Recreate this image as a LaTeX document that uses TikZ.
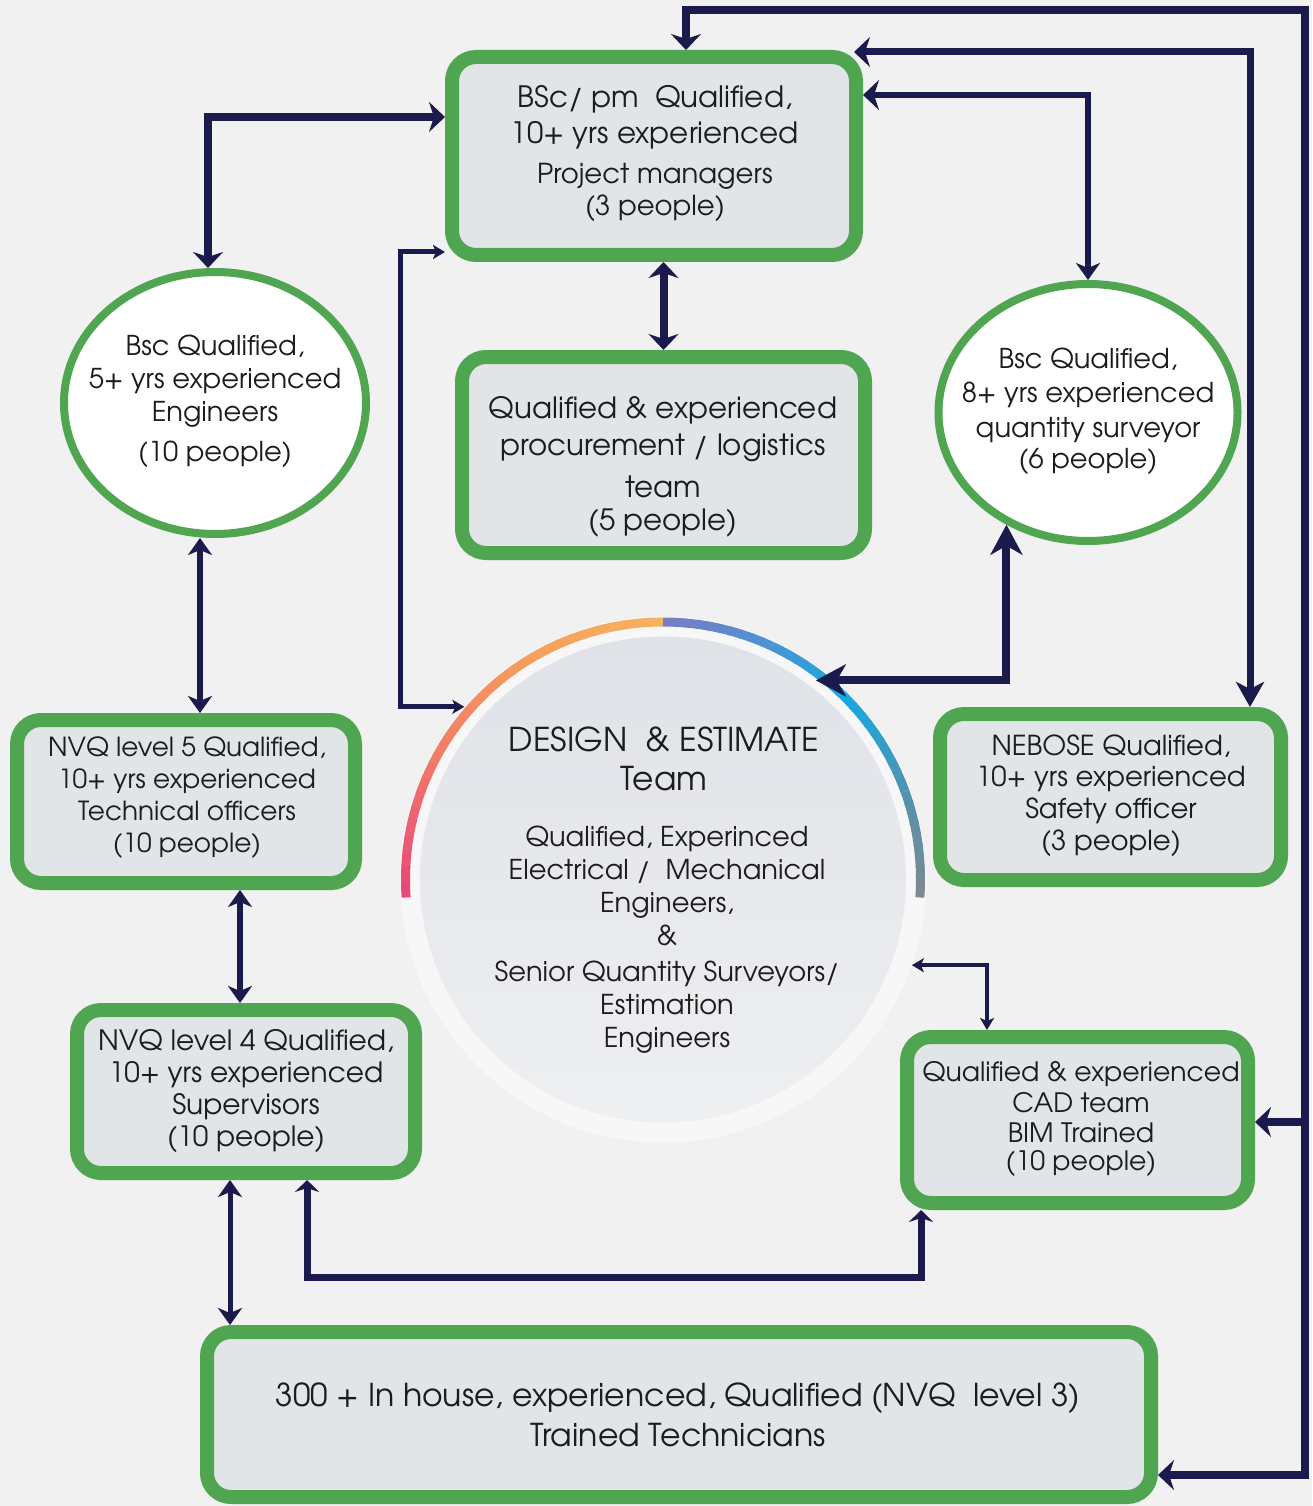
\documentclass[tikz,border=0pt]{standalone}
\usepackage{fontspec}
\setmainfont{TeX Gyre Adventor}
\usetikzlibrary{arrows.meta,shapes.geometric,calc}
\definecolor{bg}{RGB}{241,241,241}
\definecolor{gr}{RGB}{80,166,80}
\definecolor{boxfill}{RGB}{226,229,232}
\definecolor{navy}{RGB}{26,26,76}
\definecolor{ringfill}{RGB}{247,247,248}
\definecolor{discA}{RGB}{223,226,231}
\definecolor{discB}{RGB}{238,239,241}
\definecolor{txtc}{RGB}{28,28,28}
\definecolor{pinkc}{RGB}{233,70,122}
\definecolor{coralc}{RGB}{241,125,104}
\definecolor{orangec}{RGB}{246,160,92}
\definecolor{orangetop}{RGB}{247,178,96}
\definecolor{lavc}{RGB}{124,124,194}
\definecolor{bluec}{RGB}{74,148,212}
\definecolor{cyanc}{RGB}{22,168,226}
\definecolor{tealc}{RGB}{80,148,178}
\definecolor{greyc}{RGB}{128,136,142}
\begin{document}
\begin{tikzpicture}[x=1pt,y=-1pt,
  box/.style={draw=gr, line width=14pt, fill=boxfill, rounded corners=24pt, inner sep=0pt},
  oval/.style={ellipse, draw=gr, line width=8pt, fill=white, inner sep=0pt},
  txt/.style={align=center, inner sep=0pt, text=txtc},
  nv/.style={draw=navy, line join=miter},
  tipL/.tip={Stealth[length=16pt,width=30pt,inset=5pt]},
  tipN/.tip={Stealth[length=25pt,width=28pt,inset=7pt]},
  tipM/.tip={Stealth[length=17pt,width=24pt,inset=5pt]},
  tipXL/.tip={Stealth[length=30pt,width=32pt,inset=9pt]},
  tipS/.tip={Stealth[length=12pt,width=14pt,inset=3pt]},
  tipK/.tip={Stealth[length=12pt,width=24pt,inset=4pt]}]
\fill[bg] (0,0) rectangle (1312,1506);
\useasboundingbox (0,0) rectangle (1312,1506);

% central design circle
\node[circle, fill=ringfill, minimum size=526pt, inner sep=0pt] (ring) at (663,879.5) {};
\node[circle, top color=discA, bottom color=discB, minimum size=486pt, inner sep=0pt] (des) at (663,879.5) {};
\foreach \s/\e/\ca/\cb in {184/150/pinkc/coralc, 150/120/coralc/orangec, 120/90/orangec/orangetop, 90/65/lavc/bluec, 65/45/bluec/cyanc, 45/20/cyanc/tealc, 20/-4/tealc/greyc}{
  \foreach \i in {1,...,10}{
    \pgfmathsetmacro\aa{\s+(\e-\s)*(\i-1)/10}
    \pgfmathsetmacro\ab{\s+(\e-\s)*\i/10+((\e-\s)<0?-0.4:0.4)*(\i<10)}
    \pgfmathtruncatemacro\pc{100-100*(\i-0.5)/10}
    \draw[line width=9pt, color=\ca!\pc!\cb] ($(des.center)+(\aa:257.5pt)$) arc[start angle=\aa, end angle=\ab, radius=257.5pt];
  }
}
\node[txt, font=\fontsize{32.8}{39}\selectfont] (desT) at (664,759) {DESIGN\ \ \&\ ESTIMATE\\Team};
\node[txt, font=\fontsize{27.3}{33}\selectfont] (desB) at (667,940) {Qualified, Experinced\\Electrical /\ \ Mechanical\\Engineers,\\\&\\[3pt]Senior Quantity Surveyors/\\Estimation\\Engineers};

% boxes
\node[box, minimum width=404pt, minimum height=198pt] (pm) at (654,156) {};
\node[box, minimum width=403pt, minimum height=196pt] (proc) at (663.5,455) {};
\node[box, minimum width=338pt, minimum height=163pt] (nvq5) at (186,801.5) {};
\node[box, minimum width=341pt, minimum height=166pt] (nebose) at (1110.5,797) {};
\node[box, minimum width=338pt, minimum height=163pt] (nvq4) at (246,1091.5) {};
\node[box, minimum width=341pt, minimum height=166pt] (cad) at (1077.5,1120) {};
\node[box, minimum width=944pt, minimum height=165pt] (bot) at (679,1414.5) {};
\node[oval, minimum width=302pt, minimum height=262pt] (eng) at (215,403) {};
\node[oval, minimum width=299pt, minimum height=257pt] (qs) at (1088,412.5) {};

% texts
\node[txt, font=\fontsize{29.4}{36}\selectfont] (pmT) at (655,154) {BSc/ pm\ \ Qualified,\\10+ yrs experienced\\[4pt]{\fontsize{27.5}{36}\selectfont Project managers}\\[-4pt]{\fontsize{27.5}{32}\selectfont (3 people)}};
\node[txt, font=\fontsize{29.3}{37}\selectfont] (procT) at (663,467) {Qualified \& experienced\\procurement / logistics\\[5pt]team\\[-4pt](5 people)};
\node[txt, font=\fontsize{27.3}{33}\selectfont] (engT) at (215,401) {Bsc Qualified,\\5+ yrs experienced\\Engineers\\[7pt](10 people)};
\node[txt, font=\fontsize{27.3}{34}\selectfont] (qsT) at (1088,411) {Bsc Qualified,\\8+ yrs experienced\\[1pt]quantity surveyor\\[-3pt](6 people)};
\node[txt, font=\fontsize{26.3}{32}\selectfont] (nvq5T) at (187,798) {NVQ level 5 Qualified,\\10+ yrs experienced\\Technical officers\\(10 people)};
\node[txt, font=\fontsize{27.5}{31.7}\selectfont] (neboseT) at (1111,795.5) {NEBOSE Qualified,\\10+ yrs experienced\\Safety officer\\(3 people)};
\node[txt, font=\fontsize{28}{32}\selectfont] (nvq4T) at (246,1091) {NVQ level 4 Qualified,\\10+ yrs experienced\\Supervisors\\(10 people)};
\node[txt, font=\fontsize{26.7}{30}\selectfont] (cadT) at (1081,1118.5) {Qualified \& experienced\\[1pt]CAD team\\BIM Trained\\[-2pt](10 people)};
\node[txt, font=\fontsize{31.5}{40}\selectfont] (botT) at (678,1415) {300 + In house, experienced, Qualified (NVQ\ \ level 3)\\Trained Technicians};

% connectors
\coordinate (fA) at (686,10);
\coordinate (fB) at (1305,10);
\coordinate (fC) at (1305,1475);
\coordinate (fD) at (1305,1122);
\draw[nv, line width=8pt, tipL-tipL] (pm.north -| fA) -- (fA) -- (fB) -- (fC) -- (bot.east |- fC);
\draw[nv, line width=8pt, -tipL] (fD) -- (cad.east |- fD);

\coordinate (bA) at (1250,52);
\draw[nv, line width=7pt, tipL-tipN] ($(pm.east |- bA)+(-9,0)$) -- (bA) -- (nebose.north -| bA);

\coordinate (cA) at (1088,95);
\draw[nv, line width=6.5pt, tipL-tipM] (pm.east |- cA) -- (cA) -- (qs.north);

\coordinate (dA) at (208,117);
\draw[nv, line width=8pt, tipL-tipL] (pm.west |- dA) -- (dA) -- (dA |- eng.north);

\draw[nv, line width=8pt, tipL-tipL] (proc.north |- pm.south) -- (proc.north);

\coordinate (fX) at (400,252);
\draw[nv, line width=5pt, tipS-tipS] ([yshift=10pt]pm.south west) -- (fX) |- (ring.139);

\coordinate (gT) at ($(des.center)+(52.5:251pt)$);
\draw[nv, line width=8pt, tipXL-tipXL] (qs.234) |- (gT);

\coordinate (hA) at (200,0);
\draw[nv, line width=6pt, tipM-tipM] (eng.south -| hA) -- (nvq5.north -| hA);

\coordinate (iA) at (240,0);
\draw[nv, line width=5.5pt, tipM-tipM] (nvq5.south -| iA) -- (nvq4.north -| iA);

\coordinate (jA) at (230,0);
\draw[nv, line width=5pt, tipM-tipM] (nvq4.south -| jA) -- (bot.north -| jA);

\coordinate (kA) at (307,1277);
\coordinate (kB) at (921,1277);
\draw[nv, line width=7pt, tipK-tipK] (nvq4.south -| kA) -- (kA) -- (kB) -- (cad.south -| kB);

\coordinate (lA) at (987,0);
\draw[nv, line width=4.5pt, tipS-tipS] (ring.-19) -| (cad.north -| lA);
\end{tikzpicture}
\end{document}
